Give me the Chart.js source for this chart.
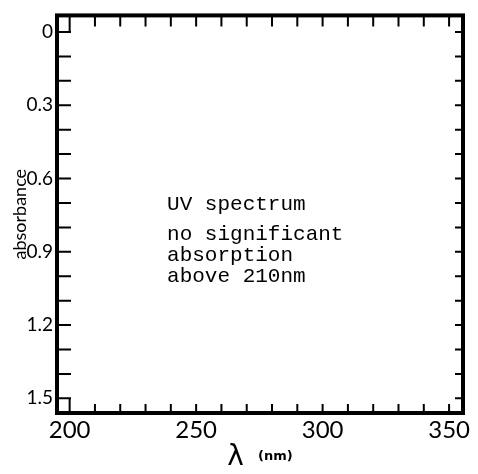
<!DOCTYPE html>
<html>
<head>
<meta charset="utf-8">
<script src="https://cdn.jsdelivr.net/npm/chart.js@4.4.0/dist/chart.umd.min.js"></script>
<style>
  body { margin: 0; background: #fff; }
  #wrap { width: 478px; height: 474px; }
</style>
</head>
<body>
<div id="wrap"><canvas id="uvChart"></canvas></div>
<script>
// no absorption band was recorded, so the spectrum has no points
const wavelengths = [];
const absorbances = [];

const xTickLabels = ['200', '250', '300', '350'];
const yTickLabels = ['0', '0.3', '0.6', '0.9', '1.2', '1.5'];
const noteLines = ['UV spectrum', '', 'no significant', 'absorption', 'above 210nm'];

const xTitle = 'λ';
const xUnit = '(nm)';
const yTitle = 'absorbance';

function fmt(v) {
    const r = Math.round(v * 10) / 10;
    return r === 0 ? '0' : String(r % 1 === 0 ? r : r.toFixed(1));
}

// draws the frame, inward ticks, axis titles and the note
const framePlugin = {
    id: 'frame',
    afterDraw(chart) {
        const { ctx, chartArea: a, scales: { x, y } } = chart;
        ctx.save();
        ctx.strokeStyle = '#000';
        ctx.lineCap = 'butt';
        ctx.lineWidth = 2;
        ctx.beginPath();
        x.ticks.forEach(t => {
            const px = x.getPixelForValue(t.value);
            const first = Math.round(t.value) === Number(xTickLabels[0]);
            ctx.moveTo(px, a.bottom);
            ctx.lineTo(px, a.bottom - (first ? 15 : 9));
            ctx.moveTo(px, a.top);
            ctx.lineTo(px, a.top + (first ? 16 : 11));
        });
        y.ticks.forEach(t => {
            const py = y.getPixelForValue(t.value);
            ctx.moveTo(a.left, py);
            ctx.lineTo(a.left + 14, py);
            ctx.moveTo(a.right, py);
            ctx.lineTo(a.right - 8, py);
        });
        ctx.stroke();

        ctx.lineWidth = 4;
        ctx.strokeRect(a.left, a.top, a.right - a.left, a.bottom - a.top);

        // x title: big lambda and small unit
        ctx.fillStyle = '#000';
        ctx.textBaseline = 'alphabetic';
        ctx.font = '28px "DejaVu Sans"';
        const wL = ctx.measureText(xTitle).width;
        ctx.font = 'bold 13px "DejaVu Sans"';
        const wU = ctx.measureText(xUnit).width;
        const gap = 14;
        let sx = (a.left + a.right) / 2 - (wL + gap + wU) / 2;
        ctx.textAlign = 'left';
        ctx.font = '28px "DejaVu Sans"';
        ctx.fillText(xTitle, sx, a.bottom + 52);
        ctx.font = 'bold 13px "DejaVu Sans"';
        ctx.fillText(xUnit, sx + wL + gap, a.bottom + 47);

        // y title
        ctx.save();
        ctx.translate(20, (a.top + a.bottom) / 2);
        ctx.rotate(-Math.PI / 2);
        ctx.textAlign = 'center';
        ctx.textBaseline = 'middle';
        ctx.font = '18px Lato';
        ctx.fillText(yTitle, 0, 0);
        ctx.restore();

        // typed note inside the plot
        ctx.font = '21px "Liberation Mono"';
        ctx.textAlign = 'left';
        ctx.textBaseline = 'alphabetic';
        const nx = x.getPixelForValue(238.5);
        let ny = y.getPixelForValue(0.73);
        noteLines.forEach((line, i) => {
            if (i > 0) ny += line === '' ? 9 : 21;
            if (line) ctx.fillText(line, nx, ny);
            if (line === '') ny += 0;
        });
        ctx.restore();
    }
};

const ctx = document.getElementById('uvChart').getContext('2d');
new Chart(ctx, {
    type: 'scatter',
    data: {
        datasets: [{
            label: 'UV spectrum',
            data: wavelengths.map((w, i) => ({ x: w, y: absorbances[i] })),
            borderColor: '#000',
            showLine: true,
            pointRadius: 0
        }]
    },
    options: {
        responsive: true,
        maintainAspectRatio: false,
        animation: false,
        layout: { padding: { top: 5, right: 15, left: 0, bottom: 0 } },
        plugins: {
            legend: { display: false },
            tooltip: { enabled: false }
        },
        scales: {
            x: {
                type: 'linear',
                min: 195,
                max: 355.5,
                grid: { display: false, drawTicks: false },
                border: { display: false },
                ticks: {
                    stepSize: 10,
                    includeBounds: false,
                    autoSkip: false,
                    maxRotation: 0,
                    padding: 3,
                    color: '#000',
                    font: { family: 'Lato', size: 24 },
                    callback: v => xTickLabels.includes(String(Math.round(v))) && Math.abs(v - Math.round(v)) < 1e-6 ? String(Math.round(v)) : ''
                },
                afterFit: s => { s.height = 61; }
            },
            y: {
                type: 'linear',
                reverse: true,
                min: -0.068,
                max: 1.56,
                grid: { display: false, drawTicks: false },
                border: { display: false },
                ticks: {
                    stepSize: 0.1,
                    includeBounds: false,
                    autoSkip: false,
                    padding: 4,
                    color: '#000',
                    font: { family: 'Lato', size: 19 },
                    callback: v => yTickLabels.includes(fmt(v)) ? fmt(v) : ''
                },
                afterFit: s => { s.width = 57; }
            }
        }
    },
    plugins: [framePlugin]
});
</script>
</body>
</html>
